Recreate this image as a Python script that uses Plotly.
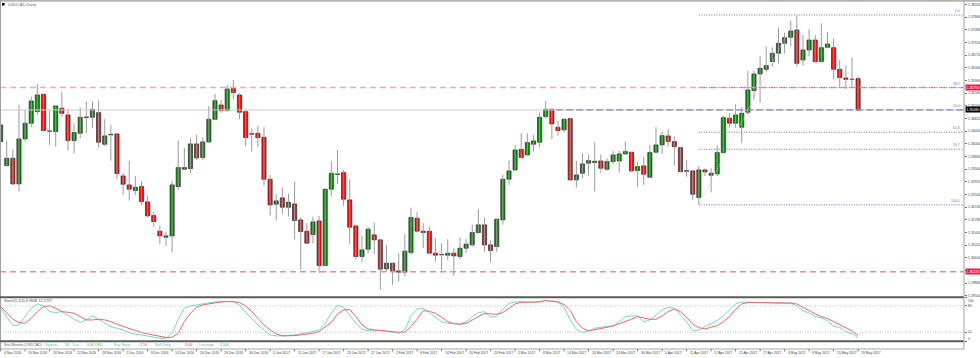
import plotly.graph_objects as go

# ---------------- data (USDCAD daily, 4 Nov 2016 .. 19 May 2017) ----------------
opens = [1.3413,1.3341,1.3363,1.3286,1.3421,1.3468,1.3503,1.3555,1.3445,1.3443,
         1.3513,1.3493,1.3416,1.3438,1.3487,1.3486,1.3500,1.3405,1.3433,1.3436,
         1.3310,1.3283,1.3266,1.3278,1.3232,1.3191,1.3144,1.3126,1.3130,1.3278,
         1.3335,1.3332,1.3406,1.3365,1.3412,1.3480,1.3523,1.3506,1.3573,1.3553,
         1.3503,1.3437,1.3438,1.3426,1.3300,1.3225,1.3244,1.3216,1.3226,1.3178,
         1.3144,1.3134,1.3175,1.3041,1.3270,1.3314,1.3320,1.3238,1.3160,1.3068,
         1.3090,1.3133,1.3118,1.3031,1.3048,1.3025,1.3021,1.3080,1.3183,1.3144,
         1.3144,1.3078,1.3074,1.3072,1.3078,1.3068,1.3093,1.3103,1.3140,1.3163,
         1.3103,1.3098,1.3178,1.3300,1.3328,1.3390,1.3373,1.3405,1.3411,1.3488,
         1.3510,1.3456,1.3448,1.3482,1.3298,1.3318,1.3348,1.3350,1.3355,1.3330,
         1.3353,1.3355,1.3376,1.3381,1.3326,1.3340,1.3306,1.3381,1.3403,1.3430,
         1.3413,1.3395,1.3326,1.3325,1.3245,1.3328,1.3312,1.3316,1.3380,1.3483,
         1.3468,1.3456,1.3501,1.3566,1.3616,1.3630,1.3653,1.3678,1.3708,1.3726,
         1.3748,1.3658,1.3688,1.3718,1.3653,1.3696,1.3695,1.3630,1.3604,1.3600,
         1.3602]
highs = [1.3470,1.3416,1.3390,1.3523,1.3508,1.3548,1.3586,1.3558,1.3506,1.3523,
         1.3563,1.3510,1.3468,1.3516,1.3533,1.3533,1.3536,1.3480,1.3463,1.3438,
         1.3318,1.3356,1.3310,1.3293,1.3250,1.3203,1.3161,1.3143,1.3295,1.3416,
         1.3393,1.3423,1.3433,1.3426,1.3520,1.3556,1.3538,1.3583,1.3598,1.3558,
         1.3508,1.3453,1.3460,1.3456,1.3313,1.3255,1.3276,1.3256,1.3293,1.3186,
         1.3168,1.3188,1.3190,1.3273,1.3355,1.3388,1.3328,1.3300,1.3163,1.3131,
         1.3158,1.3170,1.3120,1.3103,1.3050,1.3078,1.3136,1.3215,1.3201,1.3168,
         1.3158,1.3123,1.3108,1.3120,1.3093,1.3126,1.3120,1.3163,1.3210,1.3185,
         1.3116,1.3183,1.3313,1.3356,1.3403,1.3438,1.3438,1.3433,1.3500,1.3535,
         1.3513,1.3475,1.3483,1.3483,1.3355,1.3378,1.3373,1.3410,1.3373,1.3363,
         1.3385,1.3385,1.3413,1.3383,1.3353,1.3368,1.3403,1.3456,1.3443,1.3450,
         1.3428,1.3398,1.3358,1.3328,1.3340,1.3333,1.3333,1.3400,1.3490,1.3498,
         1.3525,1.3516,1.3626,1.3625,1.3670,1.3698,1.3696,1.3756,1.3740,1.3776,
         1.3793,1.3733,1.3751,1.3733,1.3768,1.3741,1.3723,1.3658,1.3641,1.3666,
         1.3608]
lows = [1.3400,1.3338,1.3283,1.3263,1.3413,1.3456,1.3493,1.3443,1.3403,1.3398,
        1.3488,1.3386,1.3378,1.3423,1.3438,1.3453,1.3395,1.3400,1.3356,1.3300,
        1.3253,1.3236,1.3253,1.3223,1.3186,1.3158,1.3106,1.3100,1.3080,1.3268,
        1.3328,1.3318,1.3358,1.3358,1.3408,1.3478,1.3500,1.3503,1.3540,1.3480,
        1.3400,1.3383,1.3396,1.3281,1.3191,1.3176,1.3196,1.3188,1.3120,1.3028,
        1.3106,1.3108,1.3018,1.3038,1.3250,1.3285,1.3220,1.3106,1.3060,1.3053,
        1.3078,1.3076,1.2968,1.3023,1.2983,1.2993,1.3008,1.3073,1.3140,1.3093,
        1.3076,1.3053,1.3026,1.3058,1.3010,1.3060,1.3078,1.3098,1.3136,1.3083,
        1.3050,1.3083,1.3163,1.3283,1.3325,1.3363,1.3370,1.3383,1.3396,1.3483,
        1.3420,1.3431,1.3440,1.3296,1.3275,1.3303,1.3310,1.3263,1.3318,1.3325,
        1.3346,1.3320,1.3373,1.3321,1.3278,1.3283,1.3303,1.3378,1.3376,1.3398,
        1.3341,1.3320,1.3308,1.3238,1.3223,1.3310,1.3261,1.3310,1.3376,1.3455,
        1.3455,1.3410,1.3493,1.3540,1.3530,1.3623,1.3638,1.3648,1.3678,1.3698,
        1.3638,1.3641,1.3670,1.3648,1.3650,1.3693,1.3600,1.3576,1.3571,1.3576,
        1.3506]
closes = [1.3463,1.3363,1.3286,1.3421,1.3468,1.3535,1.3553,1.3446,1.3444,1.3520,
          1.3498,1.3416,1.3440,1.3486,1.3485,1.3510,1.3411,1.3430,1.3435,1.3317,
          1.3285,1.3270,1.3276,1.3233,1.3190,1.3173,1.3130,1.3130,1.3283,1.3335,
          1.3330,1.3406,1.3364,1.3412,1.3480,1.3536,1.3506,1.3571,1.3560,1.3501,
          1.3425,1.3435,1.3425,1.3300,1.3223,1.3235,1.3216,1.3231,1.3176,1.3143,
          1.3108,1.3172,1.3041,1.3270,1.3318,1.3316,1.3240,1.3156,1.3068,1.3088,
          1.3150,1.3118,1.3030,1.3048,1.3026,1.3021,1.3084,1.3185,1.3144,1.3140,
          1.3078,1.3072,1.3073,1.3078,1.3070,1.3093,1.3105,1.3140,1.3163,1.3103,
          1.3086,1.3180,1.3300,1.3325,1.3388,1.3365,1.3410,1.3415,1.3486,1.3510,
          1.3466,1.3446,1.3480,1.3298,1.3313,1.3346,1.3356,1.3354,1.3333,1.3353,
          1.3373,1.3376,1.3383,1.3325,1.3338,1.3315,1.3380,1.3403,1.3431,1.3413,
          1.3398,1.3323,1.3324,1.3255,1.3328,1.3322,1.3318,1.3380,1.3485,1.3468,
          1.3493,1.3498,1.3568,1.3616,1.3633,1.3641,1.3678,1.3708,1.3725,1.3745,
          1.3648,1.3688,1.3718,1.3653,1.3695,1.3706,1.3630,1.3605,1.3600,1.3600,
          1.3508]

# Stochastic(5,3,3): main and signal, read from the sub-window
stoch_main = [74.8,55.7,35.2,36.7,55.7,74.8,84.6,80.1,67.1,64.9,
              67.1,57.3,49.6,42.1,48.1,57.3,49.6,42.1,32.9,29.1,
              25.3,19.2,15.4,13.9,11.6,8.6,6.3,6.3,17.7,49.6,
              74.8,80.1,82.4,86.2,87.7,89.2,90.0,90.7,89.2,82.4,
              64.9,49.6,36.7,25.3,13.9,11.6,11.6,12.4,13.9,16.2,
              17.7,21.5,25.3,40.5,63.3,81.6,77.0,59.5,40.5,26.8,
              23.8,23.0,23.8,22.3,19.2,17.7,25.3,57.3,72.5,74.8,
              64.9,54.2,43.6,40.5,39.0,38.3,44.3,55.7,64.9,67.1,
              54.2,57.3,72.5,86.2,89.2,90.0,88.4,87.7,90.0,92.2,
              91.5,89.2,77.0,48.1,26.8,19.2,23.0,29.1,31.4,32.9,
              34.4,44.3,55.7,57.3,57.3,43.6,48.1,58.8,71.0,77.0,
              74.8,59.5,44.3,23.8,25.3,32.9,40.5,46.6,57.3,71.0,
              84.6,89.2,88.4,87.7,87.7,87.7,86.9,86.2,86.2,86.2,
              80.1,69.4,63.3,55.7,52.7,46.6,32.9,31.4,21.5,17.0,7.0]
stoch_signal = [78.6,63.3,49.6,42.1,40.5,51.9,67.1,78.6,80.1,74.8,
                67.1,65.6,63.3,55.7,48.1,48.1,49.6,48.1,44.3,38.3,
                32.9,29.1,23.8,19.2,16.2,13.2,10.1,7.8,8.6,17.7,
                44.3,63.3,77.0,82.4,84.6,87.7,89.2,90.0,90.0,87.7,
                80.1,67.1,51.9,36.7,25.3,16.2,11.6,11.6,12.4,13.9,
                15.4,17.7,21.5,31.4,42.8,61.8,71.0,71.7,55.7,36.7,
                27.6,25.3,23.8,22.3,20.8,20.0,20.0,32.9,49.6,69.4,
                67.9,63.3,54.2,44.3,39.8,38.3,40.5,48.1,55.7,63.3,
                61.8,61.0,64.9,74.8,84.6,88.4,88.4,87.7,89.2,92.2,
                91.5,89.2,83.1,69.4,44.3,29.1,23.0,25.3,28.4,31.4,
                34.4,39.0,43.6,49.6,55.7,51.9,49.6,49.6,57.3,67.1,
                73.2,67.1,54.2,38.3,30.6,27.6,31.4,35.2,44.3,55.7,
                72.5,84.6,87.7,87.7,87.7,87.7,87.7,87.7,87.7,86.9,
                84.6,77.0,68.7,61.8,55.7,51.2,44.3,36.7,29.1,23.0,12.2]

# date labels every 4 bars (bar index, text)
label_bars = list(range(0, 141, 4))
date_labels = ["4 Nov 2016","10 Nov 2016","16 Nov 2016","22 Nov 2016","28 Nov 2016",
               "2 Dec 2016","8 Dec 2016","14 Dec 2016","20 Dec 2016","26 Dec 2016",
               "30 Dec 2016","5 Jan 2017","11 Jan 2017","17 Jan 2017","23 Jan 2017",
               "27 Jan 2017","2 Feb 2017","8 Feb 2017","14 Feb 2017","20 Feb 2017",
               "24 Feb 2017","2 Mar 2017","8 Mar 2017","14 Mar 2017","20 Mar 2017",
               "24 Mar 2017","30 Mar 2017","5 Apr 2017","11 Apr 2017","17 Apr 2017",
               "21 Apr 2017","27 Apr 2017","3 May 2017","9 May 2017","15 May 2017",
               "19 May 2017"]

# price scale tick values
price_ticks = [1.2950,1.2988,1.3026,1.3064,1.3102,1.3140,1.3178,1.3216,1.3254,1.3292,
               1.3330,1.3368,1.3406,1.3444,1.3482,1.3520,1.3558,1.3596,1.3634,1.3672,
               1.3710,1.3748,1.3786,1.3824]

# horizontal levels
bid_price = 1.3508
pink_levels = [1.3575, 1.3022]
fib_start_bar, fib_end_bar = 114, 130
fib_low, fib_high = 1.3223, 1.3793
fib_levels = [("0.0", 1.3793), ("38.2", 1.3575), ("61.8", 1.3441), ("70.7", 1.3390), ("100.0", 1.3223)]
fib_mid = ("50.0", 1.3508)
mid_line_start_bar = 90.7

stoch_title = "Stoch(5,3,3) 6.9668 12.1757"
stat_items = [("Stat Monitor (USDCAD) :", "#606060", 2), ("Spread", "#5cbfb0", 43), ("53", "#2fbf2f", 63),
              ("1Lot", "#5cbfb0", 70), ("0.00 USD", "#2fbf2f", 85), ("Buy Swap", "#5cbfb0", 112),
              ("-2.50", "#e83a3a", 137), ("Sell Swap", "#5cbfb0", 153), ("-3.00", "#e83a3a", 182),
              ("Leverage", "#5cbfb0", 197), ("1:100", "#2fbf2f", 218)]

# ---------------- figure ----------------
W, H = 980, 358
def px(x): return x / W
def py(y): return 1 - y / H

n = len(closes)
idx = list(range(n))
XR = [-0.098, 157.29]
XD = [0, px(964)]
FONT = "Liberation Sans"
FINE_DOT = "1px,1.5px"

fig = go.Figure()

# wicks
wx, wy = [], []
for i in idx:
    wx += [i, i, None]
    wy += [lows[i], highs[i], None]
fig.add_trace(go.Scatter(x=wx, y=wy, mode="lines", line=dict(color="#9a9a9a", width=1),
                         hoverinfo="skip", xaxis="x", yaxis="y"))
# bodies
body_col = ["#0c8f0c" if c >= o else "#ff1010" for o, c in zip(opens, closes)]
fig.add_trace(go.Bar(x=idx, base=opens, y=[c - o for o, c in zip(opens, closes)],
                     width=0.68, marker=dict(color=body_col, line=dict(color="#111111", width=0.6)),
                     hoverinfo="skip", xaxis="x", yaxis="y"))

# stochastic
fig.add_trace(go.Scatter(x=idx, y=stoch_main, mode="lines", line=dict(color="#72d6d2", width=1),
                         hoverinfo="skip", xaxis="x2", yaxis="y2"))
fig.add_trace(go.Scatter(x=idx, y=stoch_signal, mode="lines", line=dict(color="#f06464", width=1),
                         hoverinfo="skip", xaxis="x2", yaxis="y2"))

shapes = []
# bid line
shapes.append(dict(type="line", xref="paper", yref="y", x0=0, x1=XD[1], y0=bid_price, y1=bid_price,
                   line=dict(color="#cccccc", width=1)))
# pink dashed support/resistance
for lv, colr in zip(pink_levels, ["#f2a6b6", "#e98aa0"]):
    shapes.append(dict(type="line", xref="paper", yref="y", x0=0, x1=XD[1], y0=lv, y1=lv,
                       line=dict(color=colr, width=1.5, dash="6px,4px")))
# fibo levels
for name, lv in fib_levels:
    shapes.append(dict(type="line", xref="x", yref="y", x0=fib_start_bar, x1=XR[1], y0=lv, y1=lv,
                       line=dict(color="#6a6ac0", width=1, dash=FINE_DOT)))
shapes.append(dict(type="line", xref="x", yref="y", x0=mid_line_start_bar, x1=XR[1], y0=fib_mid[1], y1=fib_mid[1],
                   line=dict(color="#6f6fae", width=1, dash="7px,3px")))
shapes.append(dict(type="line", xref="x", yref="y", x0=fib_start_bar, x1=fib_end_bar, y0=fib_low, y1=fib_high,
                   line=dict(color="#d2d2d2", width=1, dash=FINE_DOT)))
# stoch levels
for lv in [80, 20]:
    shapes.append(dict(type="line", xref="paper", yref="y2", x0=0, x1=XD[1], y0=lv, y1=lv,
                       line=dict(color="#bdbdbd", width=1, dash=FINE_DOT)))
# frame / separators
shapes += [
    dict(type="line", xref="paper", yref="paper", x0=0, x1=1, y0=py(0.8), y1=py(0.8), line=dict(color="#b4b4b4", width=2)),
    dict(type="line", xref="paper", yref="paper", x0=px(0.5), x1=px(0.5), y0=py(0), y1=py(349), line=dict(color="#a0a0a0", width=1)),
    dict(type="line", xref="paper", yref="paper", x0=0, x1=XD[1], y0=py(297.2), y1=py(297.2), line=dict(color="#5a5a5a", width=2)),
    dict(type="line", xref="paper", yref="paper", x0=0, x1=XD[1], y0=py(341.3), y1=py(341.3), line=dict(color="#5a5a5a", width=2)),
    dict(type="line", xref="paper", yref="paper", x0=0, x1=XD[1], y0=py(349), y1=py(349), line=dict(color="#a8a8a8", width=1)),
    dict(type="line", xref="paper", yref="paper", x0=XD[1], x1=XD[1], y0=py(0), y1=py(349), line=dict(color="#a0a0a0", width=1)),
    dict(type="rect", xref="paper", yref="paper", x0=px(2), x1=px(4.5), y0=py(5.5), y1=py(3), fillcolor="#000000", line=dict(width=0)),
]
for b in label_bars:
    shapes.append(dict(type="line", xref="x", yref="paper", x0=b, x1=b, y0=py(349), y1=py(351.5),
                       line=dict(color="#808080", width=1)))

ann = []
ann.append(dict(text="USDCAD,Daily", xref="paper", yref="paper", x=px(6), y=py(4.3), xanchor="left", yanchor="middle",
                showarrow=False, font=dict(size=4.2, color="#6a6a6a", family=FONT)))
ann.append(dict(text=stoch_title, xref="paper", yref="paper", x=px(2), y=py(300.8), xanchor="left", yanchor="middle",
                showarrow=False, font=dict(size=3.8, color="#505050", family=FONT)))
for t, c, xx in stat_items:
    ann.append(dict(text=t, xref="paper", yref="paper", x=px(xx), y=py(345.3), xanchor="left", yanchor="middle",
                    showarrow=False, font=dict(size=3.6, color=c, family=FONT)))
for b, t in zip(label_bars, date_labels):
    ann.append(dict(text=t, xref="x", yref="paper", x=b + 0.15, y=py(353.2), xanchor="left", yanchor="middle",
                    showarrow=False, font=dict(size=3.4, color="#404040", family=FONT)))
for name, lv in fib_levels + [fib_mid]:
    ann.append(dict(text=name, xref="paper", yref="y", x=px(962), y=lv, xanchor="right", yanchor="bottom",
                    showarrow=False, font=dict(size=3.4, color="#7070c0", family=FONT)))
# price scale labels
for v in price_ticks:
    ann.append(dict(text=f"{v:.5f}", xref="paper", yref="y", x=px(966.3), y=v, xanchor="left", yanchor="middle",
                    showarrow=False, font=dict(size=3.5, color="#404040", family=FONT)))
# price flags on the scale
for lv, bg in [(pink_levels[0], "#e31d4c"), (pink_levels[1], "#e31d4c"), (bid_price, "#000000")]:
    ann.append(dict(text=f"{lv:.5f}", xref="paper", yref="y", x=px(965), y=lv, xanchor="left", yanchor="middle",
                    showarrow=False, bgcolor=bg, borderpad=0.5, font=dict(size=3.5, color="#ffffff", family=FONT)))
for t, yy in [("100", 300.8), ("80", 306.3), ("20", 332.3), ("0", 338.5)]:
    ann.append(dict(text=t, xref="paper", yref="paper", x=px(966.3), y=py(yy), xanchor="left", yanchor="middle",
                    showarrow=False, font=dict(size=3.4, color="#404040", family=FONT)))

fig.update_layout(
    width=W, height=H, margin=dict(l=0, r=0, t=0, b=0),
    paper_bgcolor="#ffffff", plot_bgcolor="#ffffff",
    showlegend=False, barmode="overlay", hovermode=False,
    shapes=shapes, annotations=ann,
    xaxis=dict(domain=XD, range=XR, anchor="y", showgrid=False, zeroline=False, showticklabels=False,
               ticks="", fixedrange=True),
    yaxis=dict(domain=[py(296), py(2)], range=[1.29495, 1.3832], anchor="x", side="right",
               tickvals=price_ticks, showticklabels=False,
               ticks="outside", ticklen=2, tickcolor="#707070", tickwidth=1,
               showgrid=False, zeroline=False, showline=False, fixedrange=True),
    xaxis2=dict(domain=XD, range=XR, anchor="y2", showgrid=False, zeroline=False, showticklabels=False,
                ticks="", fixedrange=True),
    yaxis2=dict(domain=[py(341), py(297.2)], range=[0, 100], anchor="x2", side="right",
                tickvals=[100, 80, 20, 0], showticklabels=False, ticks="outside", ticklen=2, tickcolor="#707070",
                showgrid=False, zeroline=False, showline=False, fixedrange=True),
)

fig.write_html("out.html", config={"displayModeBar": False, "staticPlot": True},
               post_script="document.body.style.margin='0';document.body.style.overflow='hidden';")
